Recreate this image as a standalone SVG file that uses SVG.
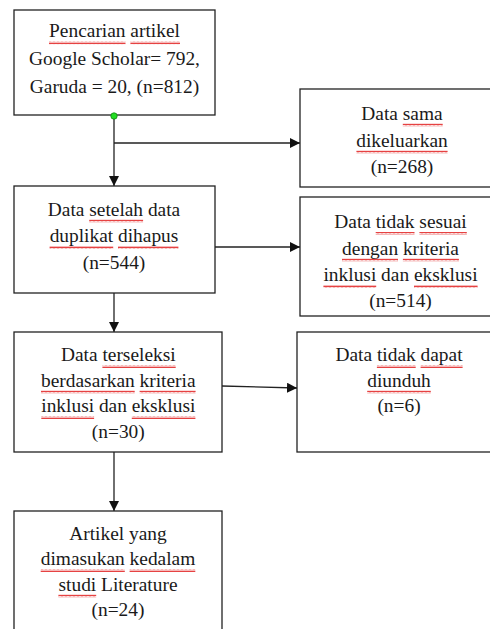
<svg xmlns="http://www.w3.org/2000/svg" width="490" height="629" viewBox="0 0 490 629">
<style>
.box{fill:#fff;stroke:#222;stroke-width:1.3}
.t{font-family:"Liberation Serif","Times New Roman",serif;font-size:19.4px;fill:#1a1a1a;text-anchor:middle}
.c{fill:none;stroke:#222;stroke-width:1.3}
.sq{fill:url(#squig)}
</style>
<defs>
<pattern id="squig" patternUnits="userSpaceOnUse" width="4" height="3">
<path d="M0 2.4 L1 0.6 L2 2.4 L3 0.6 L4 2.4" fill="none" stroke="#e01010" stroke-width="0.8"/>
</pattern>
<marker id="arr" markerWidth="10" markerHeight="10" refX="10" refY="5" orient="auto" markerUnits="userSpaceOnUse">
<path d="M0 0 L10 5 L0 10 Z" fill="#111"/>
</marker>
</defs>

<g id="connectors">
<path class="c" d="M114 116 V186" marker-end="url(#arr)"/>
<path class="c" d="M114 143 H300" marker-end="url(#arr)"/>
<path class="c" d="M215 247 H300" marker-end="url(#arr)"/>
<path class="c" d="M114 293 V332" marker-end="url(#arr)"/>
<path class="c" d="M222 386 L297 388" marker-end="url(#arr)"/>
<path class="c" d="M114 452 V511" marker-end="url(#arr)"/>
</g>

<g id="n1">
<rect class="box" x="14" y="10" width="201" height="105"/>
<text class="t" x="114.5" y="37.3">Pencarian artikel</text>
<text class="t" x="114.5" y="64.8">Google Scholar= 792,</text>
<text class="t" x="114.5" y="92.5">Garuda = 20, (n=812)</text>
<rect class="sq" x="49" y="41.3" width="76.5" height="3"/>
<rect class="sq" x="130.4" y="41.3" width="49.6" height="3"/>
<circle cx="114" cy="116" r="3.2" fill="#22dd22" stroke="#118811" stroke-width="0.8"/>
</g>

<g id="n2">
<rect class="box" x="14" y="186" width="201" height="107"/>
<text class="t" x="114" y="215.5">Data setelah data</text>
<text class="t" x="114" y="242">duplikat dihapus</text>
<text class="t" x="114" y="268.5">(n=544)</text>
<rect class="sq" x="89.2" y="219.5" width="53.9" height="3"/>
<rect class="sq" x="49.6" y="246" width="63.6" height="3"/>
<rect class="sq" x="118" y="246" width="60.4" height="3"/>
</g>

<g id="n3">
<rect class="box" x="14" y="332" width="208" height="120"/>
<text class="t" x="118.3" y="361">Data terseleksi</text>
<text class="t" x="118.3" y="386.5">berdasarkan kriteria</text>
<text class="t" x="118.3" y="412">inklusi dan eksklusi</text>
<text class="t" x="118.3" y="438">(n=30)</text>
<rect class="sq" x="102.4" y="365" width="73.3" height="3"/>
<rect class="sq" x="41" y="390.5" width="93.7" height="3"/>
<rect class="sq" x="139.6" y="390.5" width="56" height="3"/>
<rect class="sq" x="41.3" y="416" width="52.8" height="3"/>
<rect class="sq" x="131.8" y="416" width="63.6" height="3"/>
</g>

<g id="n4">
<rect class="box" x="14" y="511" width="208" height="130"/>
<text class="t" x="118" y="540">Artikel yang</text>
<text class="t" x="118" y="565">dimasukan kedalam</text>
<text class="t" x="118" y="590.5">studi Literature</text>
<text class="t" x="118" y="616">(n=24)</text>
<rect class="sq" x="40.7" y="569" width="84.1" height="3"/>
<rect class="sq" x="129.6" y="569" width="65.7" height="3"/>
<rect class="sq" x="58.4" y="594.5" width="37.8" height="3"/>
</g>

<g id="r1">
<rect class="box" x="300" y="89" width="205" height="98"/>
<text class="t" x="402" y="119.5">Data sama</text>
<text class="t" x="402" y="146.5">dikeluarkan</text>
<text class="t" x="402" y="173">(n=268)</text>
<rect class="sq" x="402.8" y="123.5" width="39.9" height="3"/>
<rect class="sq" x="356.4" y="150.5" width="91.2" height="3"/>
</g>

<g id="r2">
<rect class="box" x="300" y="197" width="205" height="119"/>
<text class="t" x="400.5" y="228">Data tidak sesuai</text>
<text class="t" x="400.5" y="254.5">dengan kriteria</text>
<text class="t" x="400.5" y="281">inklusi dan eksklusi</text>
<text class="t" x="400.5" y="307">(n=514)</text>
<rect class="sq" x="375.7" y="232" width="38.8" height="3"/>
<rect class="sq" x="419.4" y="232" width="47.4" height="3"/>
<rect class="sq" x="342" y="258.5" width="56" height="3"/>
<rect class="sq" x="402.9" y="258.5" width="56" height="3"/>
<rect class="sq" x="323.4" y="285" width="52.8" height="3"/>
<rect class="sq" x="414" y="285" width="63.6" height="3"/>
</g>

<g id="r3">
<rect class="box" x="297" y="332" width="208" height="120"/>
<text class="t" x="399" y="361">Data tidak dapat</text>
<text class="t" x="399" y="386.5">diunduh</text>
<text class="t" x="399" y="412">(n=6)</text>
<rect class="sq" x="376.9" y="365" width="38.8" height="3"/>
<rect class="sq" x="420.6" y="365" width="42" height="3"/>
<rect class="sq" x="367.2" y="390.5" width="63.6" height="3"/>
</g>
</svg>
